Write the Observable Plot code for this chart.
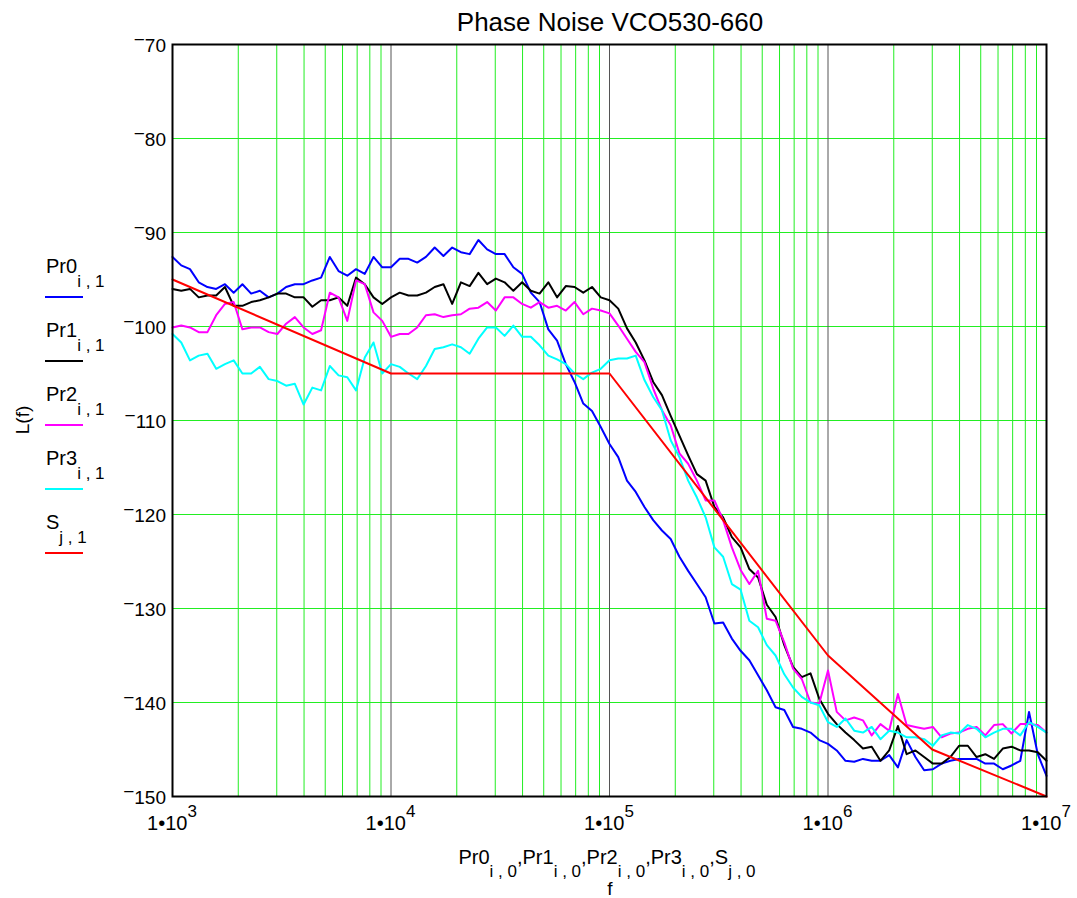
<!DOCTYPE html>
<html>
<head>
<meta charset="utf-8">
<script src="https://cdn.jsdelivr.net/npm/d3@7"></script>
<script src="https://cdn.jsdelivr.net/npm/@observablehq/plot@0.6"></script>
<style>
  html, body { margin: 0; padding: 0; background: #fff; }
  svg text { font-family: "Liberation Sans", Arial, sans-serif; }
</style>
</head>
<body>
<div id="chart"></div>
<script>
// ---- data ----
// frequency grid (log spaced, 25 points per decade, 1e3 .. 1e7)
const freq = d3.range(101).map(k => 1e3 * Math.pow(10, k / 25));

const pr0 = [-92.6,-93.5,-93.9,-95.3,-95.8,-96.0,-95.5,-96.4,-95.5,-96.5,-96.2,-96.9,-96.5,-95.8,-95.5,-95.5,-95.1,-94.8,-92.6,-94.1,-94.6,-93.9,-94.4,-92.6,-93.7,-93.7,
  -92.8,-92.8,-93.2,-92.6,-91.6,-92.5,-91.6,-92.1,-92.3,-90.8,-91.8,-92.3,-92.3,-93.7,-94.4,-96.4,-97.4,-100.3,-101.5,-104.0,-105.9,-108.2,-109.0,-110.7,-112.5,
  -113.9,-116.4,-117.6,-119.2,-120.6,-121.7,-122.6,-124.5,-126.0,-127.4,-128.8,-131.6,-131.5,-133.2,-134.5,-135.5,-137.1,-138.7,-140.5,-140.8,-142.6,-142.8,-143.2,-144.0,-144.4,-145.1,-146.2,-146.3,-146.0,-146.2,-146.2,-145.6,-146.9,-144.0,-145.8,-147.2,-147.1,-146.5,-146.2,-146.0,-146.0,-146.0,-146.5,-146.5,-147.1,-146.7,-146.2,-141.0,-145.5,-147.8];

const pr1 = [-96.0,-96.2,-96.0,-96.9,-96.7,-96.7,-95.8,-97.8,-97.8,-97.4,-97.2,-96.9,-96.5,-96.5,-96.9,-96.9,-97.9,-97.2,-97.2,-96.9,-97.8,-94.8,-95.5,-96.9,-97.6,-96.9,
  -96.4,-96.7,-96.7,-96.4,-95.8,-95.5,-97.6,-95.3,-95.7,-94.3,-95.5,-94.9,-95.3,-96.2,-95.3,-96.2,-96.5,-95.3,-96.9,-95.7,-95.8,-96.4,-95.8,-96.9,-97.2,
  -98.1,-100.2,-101.7,-103.6,-105.9,-107.3,-109.5,-111.6,-113.7,-115.7,-116.4,-119.2,-120.3,-122.4,-123.5,-125.8,-126.7,-129.6,-130.9,-133.9,-136.2,-137.3,-136.9,-139.6,-141.2,-142.3,-143.2,-144.0,-144.9,-144.7,-146.2,-145.1,-142.5,-145.5,-145.1,-145.8,-146.5,-146.5,-145.8,-144.6,-144.6,-145.8,-145.5,-146.0,-144.9,-144.7,-145.1,-145.1,-145.3,-146.2];

const pr2 = [-100.1,-99.9,-100.1,-100.6,-100.6,-98.8,-97.6,-97.4,-100.3,-100.1,-100.1,-100.6,-100.8,-99.7,-99.0,-100.1,-100.8,-100.4,-96.4,-96.9,-99.4,-95.1,-95.5,-98.5,-99.4,-101.1,
  -100.8,-100.8,-100.1,-98.8,-98.7,-99.0,-98.8,-98.7,-98.1,-98.0,-97.4,-98.3,-96.9,-96.9,-97.6,-98.0,-97.4,-98.0,-97.8,-98.3,-97.4,-98.7,-98.1,-98.3,-98.6,
  -99.9,-101.3,-102.7,-103.8,-106.6,-108.9,-110.5,-113.5,-114.6,-116.4,-118.5,-118.5,-120.6,-123.5,-125.9,-127.4,-126.0,-131.1,-131.3,-133.6,-136.4,-137.5,-140.0,-140.1,-136.6,-141.0,-141.9,-141.6,-141.9,-143.5,-142.3,-143.0,-139.1,-142.4,-142.6,-142.8,-142.6,-143.7,-143.3,-143.2,-142.8,-142.6,-143.5,-142.4,-142.3,-143.3,-142.3,-142.3,-142.4,-143.2];

const pr3 = [-100.8,-101.7,-103.6,-103.1,-102.9,-104.5,-104.0,-103.6,-105.0,-105.0,-104.3,-105.6,-105.8,-106.3,-106.1,-108.3,-106.5,-106.8,-104.2,-105.2,-105.4,-106.8,-103.3,-101.7,-105.0,-104.0,
  -104.3,-105.0,-105.6,-104.2,-102.4,-102.2,-101.9,-102.2,-102.9,-101.3,-100.1,-100.1,-101.0,-99.9,-101.1,-101.1,-102.0,-103.1,-103.5,-104.0,-105.0,-105.6,-104.9,-104.5,-103.6,
  -103.4,-103.4,-103.1,-105.7,-107.5,-108.9,-112.1,-113.9,-116.4,-118.2,-120.3,-123.5,-124.5,-127.4,-128.0,-131.3,-132.0,-133.9,-135.0,-137.0,-138.4,-139.4,-140.0,-140.3,-142.1,-142.6,-141.7,-143.0,-143.2,-142.6,-143.9,-143.0,-143.2,-143.7,-143.7,-143.9,-144.6,-143.5,-143.2,-143.3,-142.4,-142.8,-143.7,-143.2,-142.8,-142.8,-143.5,-142.1,-142.6,-143.2];

// spec line S
const sFreq = [1e3, 1e4, 1e5, 1e6, 3e6, 1e7];
const sVal  = [-95, -105, -105, -135, -145, -150];

// axes / grid
const decades = [1e3, 1e4, 1e5, 1e6, 1e7];
const decadeExp = ["3", "4", "5", "6", "7"];
const minorMult = [2, 3, 4, 5, 6, 7, 8, 9];
const yTicks = [-150, -140, -130, -120, -110, -100, -90, -80, -70];

const seriesNames = ["Pr0", "Pr1", "Pr2", "Pr3", "S"];
const seriesSubs = ["i , 1", "i , 1", "i , 1", "i , 1", "j , 1"];
const axisSubs = ["i , 0", "i , 0", "i , 0", "i , 0", "j , 0"];
const seriesColors = ["#0000ff", "#000000", "#ff00ff", "#00ffff", "#ff0000"];

// ---- build ----
const minorX = decades.slice(0, 4).flatMap(d => minorMult.map(m => d * m));
const toRows = vals => vals.map((v, i) => ({f: freq[i], v}));
const sRows = sFreq.map((f, i) => ({f, v: sVal[i]}));
const allSeries = [toRows(pr0), toRows(pr1), toRows(pr2), toRows(pr3), sRows];

const plot = Plot.plot({
  width: 1077,
  height: 898,
  marginLeft: 172,
  marginRight: 31,
  marginTop: 44,
  marginBottom: 102,
  x: {type: "log", domain: [1e3, 1e7], axis: null},
  y: {domain: [-150, -70], axis: null},
  marks: [
    Plot.ruleX(minorX, {stroke: "#22ee22", strokeWidth: 1}),
    Plot.ruleY(yTicks, {stroke: "#22ee22", strokeWidth: 1}),
    Plot.ruleX(decades.slice(1, 4), {stroke: "#555555", strokeWidth: 1}),
    ...allSeries.map((rows, i) =>
      Plot.line(rows, {x: "f", y: "v", stroke: seriesColors[i], strokeWidth: 2})),
    Plot.frame({stroke: "#000", strokeWidth: 2})
  ]
});

const svg = d3.select(plot);
const xs = plot.scale("x");
const ys = plot.scale("y");
const font = '"Liberation Sans", Arial, sans-serif';

// title
svg.append("text").attr("x", 610).attr("y", 31).attr("text-anchor", "middle")
  .attr("font-size", 26).attr("fill", "#000").text("Phase Noise VCO530-660");

// y tick labels with raised minus
yTicks.forEach(t => {
  const y = ys.apply(t);
  const txt = svg.append("text").attr("x", 166).attr("y", y + 8).attr("text-anchor", "end")
    .attr("font-size", 19).attr("fill", "#000");
  txt.append("tspan").attr("dy", -6).text("\u2212");
  txt.append("tspan").attr("dy", 6).text(String(Math.abs(t)));
});

// x tick labels 1•10^n
decades.forEach((d, i) => {
  const x = xs.apply(d);
  const txt = svg.append("text").attr("x", x).attr("y", 830).attr("text-anchor", "middle")
    .attr("font-size", 20).attr("fill", "#000");
  txt.append("tspan").text("1\u202210");
  txt.append("tspan").attr("dy", -13).attr("font-size", 17).text(decadeExp[i]);
});

// x axis label
{
  const txt = svg.append("text").attr("x", 607).attr("y", 864).attr("text-anchor", "middle")
    .attr("font-size", 20).attr("fill", "#000");
  seriesNames.forEach((n, i) => {
    txt.append("tspan").attr("dy", i === 0 ? 0 : -13).text((i === 0 ? "" : ",") + n);
    txt.append("tspan").attr("dy", 13).attr("font-size", 17).text(axisSubs[i]);
  });
  svg.append("text").attr("x", 610).attr("y", 895).attr("text-anchor", "middle")
    .attr("font-size", 19).attr("fill", "#000").text("f");
}

// y axis label
svg.append("text").attr("transform", "translate(29,420) rotate(-90)").attr("text-anchor", "middle")
  .attr("font-size", 19).attr("fill", "#000").text("L(f)");

// legend
seriesNames.forEach((n, i) => {
  const ly = 297 + 64 * i;
  const txt = svg.append("text").attr("x", 46).attr("y", ly - 24).attr("text-anchor", "start")
    .attr("font-size", 20).attr("fill", "#000");
  txt.append("tspan").text(n);
  txt.append("tspan").attr("dy", 14).attr("font-size", 17).text(seriesSubs[i]);
  svg.append("line").attr("x1", 45).attr("x2", 83).attr("y1", ly).attr("y2", ly)
    .attr("stroke", seriesColors[i]).attr("stroke-width", 2);
});

svg.selectAll("text").attr("font-family", font);
document.getElementById("chart").appendChild(plot);
</script>
</body>
</html>
